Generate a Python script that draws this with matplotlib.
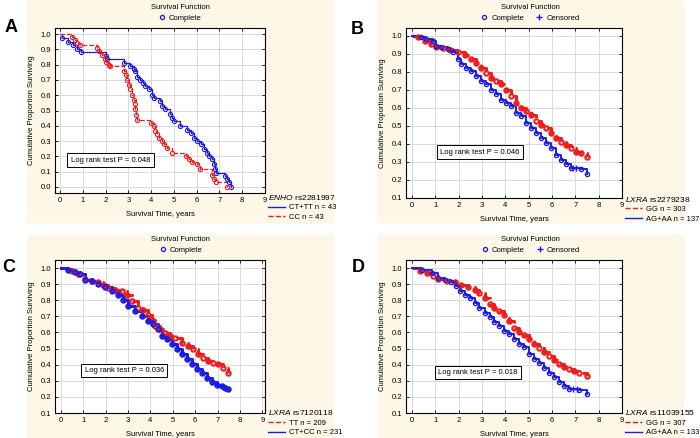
import matplotlib
matplotlib.use('Agg')
from matplotlib import pyplot as plt
from matplotlib.lines import Line2D
from matplotlib.patches import Rectangle

plt.rcParams['font.family'] = ['Liberation Sans', 'DejaVu Sans']
plt.rcParams['mathtext.fontset'] = 'custom'
plt.rcParams['mathtext.it'] = 'Liberation Sans:italic'
plt.rcParams['mathtext.rm'] = 'Liberation Sans'

RED = '#f01c1c'
BLUE = '#1c1ce6'
BEIGE = '#fcf7e6'

## Panel A - ENHO rs2281997
a_blue_t = [0, 0.07, 0.37, 0.59, 0.74, 0.91, 2.0, 2.06, 2.79, 3.09, 3.26, 3.31, 3.38, 3.5, 3.63,
            3.75, 3.9, 4.04, 4.12, 4.41, 4.49, 4.63, 4.85, 4.9, 5.0, 5.25, 5.59, 5.74, 5.88, 6.03,
            6.18, 6.32, 6.47, 6.54, 6.69, 6.76, 6.81, 6.87, 7.25, 7.35, 7.43, 7.5]
a_blue_s = [1.0, 0.974, 0.95, 0.93, 0.90, 0.88, 0.86, 0.837, 0.814, 0.79, 0.77, 0.76, 0.72, 0.70, 0.68,
            0.66, 0.64, 0.60, 0.58, 0.56, 0.53, 0.51, 0.48, 0.45, 0.43, 0.40, 0.375, 0.35, 0.32, 0.30,
            0.28, 0.25, 0.22, 0.20, 0.18, 0.15, 0.115, 0.09, 0.07, 0.05, 0.03, 0.0]
a_red_t = [0, 0.54, 0.66, 0.74, 0.88, 1.62, 1.69, 1.84, 1.99, 2.01, 2.13, 2.21, 2.79, 2.9, 2.94,
           3.01, 3.09, 3.16, 3.24, 3.28, 3.31, 3.34, 3.38, 4.01, 4.12, 4.19, 4.26, 4.34, 4.46, 4.56,
           4.71, 4.9, 5.51, 5.66, 5.81, 6.03, 6.13, 6.69, 6.76, 6.84, 7.35]
a_red_s = [1.0, 0.978, 0.96, 0.94, 0.93, 0.91, 0.89, 0.865, 0.84, 0.82, 0.80, 0.79, 0.76, 0.735, 0.70,
           0.67, 0.64, 0.60, 0.57, 0.54, 0.51, 0.47, 0.44, 0.42, 0.40, 0.365, 0.345, 0.32, 0.30, 0.28,
           0.255, 0.225, 0.20, 0.18, 0.16, 0.15, 0.115, 0.08, 0.05, 0.03, 0.0]

## Panel B - LXRA rs2279238
b_red_t = [0, 0.27, 0.55, 0.84, 1.05, 1.34, 1.62, 1.97, 2.26, 2.54, 2.76, 2.97, 3.18, 3.39, 3.61, 3.82,
           4.03, 4.25, 4.46, 4.67, 4.89, 5.10, 5.31, 5.53, 5.74, 5.95, 6.16, 6.38, 6.59, 6.80, 7.02,
           7.24, 7.49]
b_red_s = [1.0, 0.99, 0.972, 0.953, 0.935, 0.93, 0.92, 0.907, 0.89, 0.87, 0.85, 0.823, 0.795, 0.767,
           0.748, 0.73, 0.70, 0.664, 0.627, 0.60, 0.58, 0.558, 0.524, 0.506, 0.487, 0.46, 0.43, 0.412,
           0.394, 0.375, 0.356, 0.347, 0.328]
b_blue_t = [0, 0.41, 0.6, 0.91, 1.05, 1.26, 1.55, 1.76, 1.97, 2.12, 2.33, 2.54, 2.76, 2.97, 3.18, 3.39,
            3.61, 3.82, 4.03, 4.25, 4.46, 4.67, 4.89, 5.10, 5.31, 5.53, 5.74, 5.95, 6.16, 6.38, 6.59,
            6.80, 7.23, 7.49]
b_blue_s = [1.0, 0.99, 0.98, 0.97, 0.944, 0.935, 0.925, 0.907, 0.87, 0.84, 0.823, 0.804, 0.776, 0.748,
            0.73, 0.70, 0.674, 0.645, 0.627, 0.608, 0.57, 0.552, 0.515, 0.487, 0.46, 0.43, 0.403, 0.375,
            0.338, 0.31, 0.29, 0.267, 0.258, 0.235]
b_cens_t = [6.92, 7.05]
b_cens_s = [0.267, 0.267]

## Panel C - LXRA rs7120118
c_red_t = [0.25, 0.48, 0.78, 1.07, 1.37, 1.67, 1.89, 2.12, 2.41, 2.71, 2.94, 3.16, 3.46, 3.68, 3.90,
           4.05, 4.20, 4.43, 4.65, 4.87, 5.10, 5.40, 5.69, 5.92, 6.14, 6.36, 6.59, 6.81, 7.03, 7.26, 7.48]
c_red_s = [0.995, 0.98, 0.96, 0.934, 0.92, 0.913, 0.897, 0.876, 0.866, 0.856, 0.835, 0.794, 0.753, 0.742,
           0.71, 0.68, 0.64, 0.62, 0.598, 0.577, 0.567, 0.536, 0.515, 0.495, 0.464, 0.443, 0.423, 0.412,
           0.402, 0.381, 0.35]
c_blue_t = [0, 0.3, 0.63, 0.85, 1.07, 1.37, 1.67, 1.97, 2.27, 2.56, 2.79, 3.01, 3.31, 3.61, 3.90, 4.13,
            4.35, 4.50, 4.72, 4.95, 5.17, 5.40, 5.62, 5.84, 6.07, 6.30, 6.51, 6.74, 6.96, 7.18, 7.33, 7.48]
c_blue_s = [1.0, 0.99, 0.975, 0.962, 0.928, 0.918, 0.90, 0.88, 0.86, 0.835, 0.804, 0.763, 0.732, 0.70,
            0.67, 0.65, 0.62, 0.577, 0.557, 0.526, 0.495, 0.464, 0.433, 0.402, 0.371, 0.35, 0.32, 0.294,
            0.274, 0.268, 0.253, 0.247]

## Panel D - LXRA rs11039155
d_red_t = [0, 0.34, 0.62, 0.91, 1.12, 1.48, 1.83, 2.11, 2.40, 2.68, 2.89, 3.11, 3.32, 3.53, 3.74, 3.96,
           4.17, 4.38, 4.60, 4.81, 5.02, 5.23, 5.45, 5.66, 5.87, 6.09, 6.30, 6.51, 6.72, 6.94, 7.15, 7.48]
d_red_s = [1.0, 0.984, 0.969, 0.948, 0.934, 0.92, 0.913, 0.897, 0.88, 0.866, 0.845, 0.814, 0.777, 0.753,
           0.736, 0.71, 0.67, 0.629, 0.604, 0.584, 0.557, 0.526, 0.505, 0.48, 0.454, 0.427, 0.402, 0.386,
           0.371, 0.361, 0.35, 0.33]
d_blue_t = [0, 0.41, 0.84, 1.12, 1.40, 1.69, 1.90, 2.04, 2.26, 2.47, 2.68, 2.89, 3.11, 3.32, 3.53, 3.74,
            3.96, 4.17, 4.38, 4.60, 4.81, 5.02, 5.23, 5.45, 5.66, 5.87, 6.09, 6.30, 6.51, 6.72, 7.15, 7.48]
d_blue_s = [1.0, 0.99, 0.969, 0.938, 0.928, 0.913, 0.887, 0.856, 0.835, 0.814, 0.784, 0.753, 0.722, 0.695,
            0.666, 0.639, 0.612, 0.588, 0.557, 0.526, 0.51, 0.464, 0.433, 0.412, 0.381, 0.35, 0.323, 0.295,
            0.268, 0.247, 0.241, 0.216]
d_cens_t = [6.9, 7.05]
d_cens_s = [0.247, 0.247]

x_ticks = list(range(10))
yticks_a = [i / 10 for i in range(11)]
yticks_bcd = [i / 10 for i in range(1, 11)]

W, H = 700, 438
fig = plt.figure(figsize=(7, 4.38), dpi=100)
FS = 5.5


def rect(x0, y0, x1, y1):
    # pixel box, origin top left -> figure fraction
    return [x0 / W, 1 - y1 / H, (x1 - x0) / W, (y1 - y0) / H]


def curve(ax, t, s, color, ls, lw, ms, mew):
    ax.step(t, s, where='post', color=color, ls=ls, lw=lw, zorder=3)
    ax.plot(t[1:], s[1:], 'o', ms=ms, mfc='none', mec=color, mew=mew, zorder=4)


def panel(bg, box, letter, letter_xy, xlim, ylim, yticks, ptext, pxy, gene, snp, entries, censored, leg_y):
    fig.patches.append(Rectangle((bg[0] / W, 1 - bg[3] / H), (bg[2] - bg[0]) / W, (bg[3] - bg[1]) / H,
                                 transform=fig.transFigure, color=BEIGE, zorder=-10))
    ax = fig.add_axes(rect(*box))
    ax.set_xlim(*xlim)
    ax.set_ylim(*ylim)
    ax.set_xticks(x_ticks)
    ax.set_yticks(yticks)
    ax.set_yticklabels(['%.1f' % v for v in yticks])
    ax.grid(True, color='#d4d4d4', lw=0.6)
    ax.set_axisbelow(True)
    ax.tick_params(direction='in', length=2.5, width=0.6, labelsize=FS, pad=3,
                   top=True, right=True)
    for sp in ax.spines.values():
        sp.set_linewidth(0.8)
    ax.set_xlabel('Survival Time, years', fontsize=FS, labelpad=5)
    ax.set_ylabel('Cumulative Proportion Surviving', fontsize=FS, labelpad=4)

    for t, s, color, ls, label, lw, ms, mew in entries:
        curve(ax, t, s, color, ls, lw, ms, mew)
    if censored is not None:
        ax.plot(censored[0], censored[1], '+', color=BLUE, ms=4, mew=1.0, zorder=5)

    ax.text(pxy[0], pxy[1], ptext, transform=ax.transAxes, fontsize=FS, ha='center', va='center',
            bbox=dict(boxstyle='square,pad=0.45', fc='white', ec='black', lw=0.7))

    # top legend
    handles = [Line2D([], [], ls='none', marker='o', ms=3, mfc='none', mec=BLUE, mew=0.9)]
    labels = ['Complete']
    if censored is not None:
        handles.append(Line2D([], [], ls='none', marker='+', ms=4, color=BLUE, mew=1.0))
        labels.append('Censored')
    cx = (bg[0] + bg[2]) / 2 / W
    fig.legend(handles, labels, title='Survival Function', loc='lower center',
               bbox_to_anchor=(cx, 1 - (box[1] - 6) / H), ncol=2, frameon=False,
               fontsize=FS, title_fontsize=FS, handlelength=1, handletextpad=0.4,
               columnspacing=1.5, borderpad=0, borderaxespad=0)

    # genotype legend
    gh = [Line2D([], [], color=c, ls=ls, lw=1.0) for _, _, c, ls, _, _, _, _ in entries]
    gl = [e[4] for e in entries]
    ax.legend(gh, gl, title=r'$\mathit{' + gene + '}$ ' + snp, loc='upper left',
              bbox_to_anchor=(1.015, leg_y), frameon=False, fontsize=FS, title_fontsize=6,
              handlelength=2.2, handletextpad=0.5, labelspacing=0.28, borderpad=0,
              borderaxespad=0, alignment='left')

    fig.text(letter_xy[0] / W, 1 - letter_xy[1] / H, letter, fontsize=13, fontweight='bold',
             ha='center', va='center')
    return ax


panel((27, 0, 333, 222), (55, 28, 265, 193), 'A', (11, 28), (-0.22, 9.0), (-0.04, 1.04), yticks_a,
      'Log rank test P = 0.048', (0.264, 0.2), 'ENHO', 'rs2281997',
      [(a_blue_t, a_blue_s, BLUE, '-', 'CT+TT n = 43', 0.9, 3.0, 0.8),
       (a_red_t, a_red_s, RED, '--', 'CC n = 43', 0.9, 3.0, 0.8)], None, 0.0)

panel((377, 0, 683, 222), (406, 28, 622, 198), 'B', (357, 30), (-0.25, 9.0), (0.1, 1.042), yticks_bcd,
      'Log rank test P = 0.046', (0.343, 0.27), 'LXRA', 'rs2279238',
      [(b_red_t, b_red_s, RED, '--', 'GG n = 303', 2.2, 3.2, 1.4),
       (b_blue_t, b_blue_s, BLUE, '-', 'AG+AA n = 137', 1.4, 3.0, 1.0)], (b_cens_t, b_cens_s), 0.02)

panel((28, 235, 333, 438), (55, 260, 265, 413), 'C', (9, 267), (-0.27, 9.12), (0.1, 1.05), yticks_bcd,
      'Log rank test P = 0.036', (0.33, 0.278), 'LXRA', 'rs7120118',
      [(c_red_t, c_red_s, RED, '--', 'TT n = 209', 2.2, 3.2, 1.4),
       (c_blue_t, c_blue_s, BLUE, '-', 'CT+CC n = 231', 2.2, 3.2, 1.4)], None, 0.03)

panel((378, 235, 683, 438), (406, 260, 622, 413), 'D', (358, 267), (-0.26, 9.0), (0.1, 1.05), yticks_bcd,
      'Log rank test P = 0.018', (0.333, 0.265), 'LXRA', 'rs11039155',
      [(d_red_t, d_red_s, RED, '--', 'GG n = 307', 2.2, 3.2, 1.4),
       (d_blue_t, d_blue_s, BLUE, '-', 'AG+AA n = 133', 1.4, 3.0, 1.0)], (d_cens_t, d_cens_s), 0.03)

fig.savefig('out.png', dpi=100)
